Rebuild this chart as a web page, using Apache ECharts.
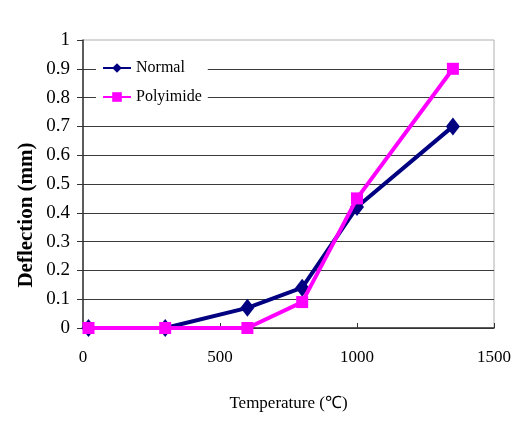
<!DOCTYPE html>
<html><head><meta charset="utf-8">
<script src="https://cdn.jsdelivr.net/npm/echarts@6/dist/echarts.min.js"></script>
<style>html,body{margin:0;padding:0;background:#fff}#c{width:526px;height:428px}</style>
</head><body><div id="c"></div>
<script>
const temperatures = [20, 300, 600, 800, 1000, 1350];
const normalDeflection = [0, 0, 0.07, 0.14, 0.42, 0.70];
const polyimideDeflection = [0, 0, 0, 0.09, 0.45, 0.90];
const seriesNames = ['Normal', 'Polyimide'];
const xTitle = 'Temperature (\u2103)';
const yTitle = 'Deflection (mm)';

const font = 'Liberation Serif';
const chart = echarts.init(document.getElementById('c'), null, {renderer: 'canvas'});
chart.setOption({
  animation: false,
  backgroundColor: '#fff',
  textStyle: {fontFamily: font},
  grid: {left: 83, right: 32, top: 40, bottom: 100, show: true, borderColor: '#b0b0b0', borderWidth: 1},
  legend: {
    orient: 'vertical', left: 96, top: 57,
    backgroundColor: '#fff', padding: [3, 6, 3, 6],
    itemWidth: 28, itemHeight: 12, itemGap: 13,
    textStyle: {fontFamily: font, fontSize: 16, color: '#000'},
    data: seriesNames
  },
  xAxis: {
    type: 'value', min: 0, max: 1500, interval: 500,
    name: xTitle, nameLocation: 'middle', nameGap: 67,
    nameTextStyle: {fontFamily: font, fontSize: 17, color: '#000'},
    axisLine: {show: true, onZero: false, lineStyle: {color: '#333', width: 1.5}},
    axisTick: {show: true, inside: true, length: 5, lineStyle: {color: '#333'}},
    axisLabel: {fontFamily: font, fontSize: 17, color: '#000', margin: 21,
      formatter: v => String(v)},
    splitLine: {show: false}
  },
  yAxis: {
    type: 'value', min: 0, max: 1, interval: 0.1,
    axisLine: {show: true, onZero: false, lineStyle: {color: '#333', width: 1.5}},
    axisTick: {show: true, inside: false, length: 6, lineStyle: {color: '#333'}},
    axisLabel: {fontFamily: font, fontSize: 19, color: '#000', margin: 13,
      formatter: v => String(Math.round(v * 10) / 10)},
    splitLine: {show: true, showMaxLine: false, lineStyle: {color: '#3a3a3a', width: 1.2}}
  },
  graphic: [{
    type: 'text',
    rotation: Math.PI / 2,
    x: 27, y: 215,
    style: {text: yTitle, fontFamily: font, fontSize: 21, fontWeight: 'bold', fill: '#000', align: 'center', verticalAlign: 'middle'}
  }],
  series: [
    {
      name: seriesNames[0], type: 'line',
      data: temperatures.map((t, i) => [t, normalDeflection[i]]),
      color: '#000080',
      lineStyle: {width: 4, color: '#000080'},
      symbol: 'diamond', symbolSize: [14, 18],
      itemStyle: {color: '#000080'}, z: 2
    },
    {
      name: seriesNames[1], type: 'line',
      data: temperatures.map((t, i) => [t, polyimideDeflection[i]]),
      color: '#ff00ff',
      lineStyle: {width: 4, color: '#ff00ff'},
      symbol: 'rect', symbolSize: 12,
      itemStyle: {color: '#ff00ff'}, z: 3
    }
  ]
});
</script></body></html>
